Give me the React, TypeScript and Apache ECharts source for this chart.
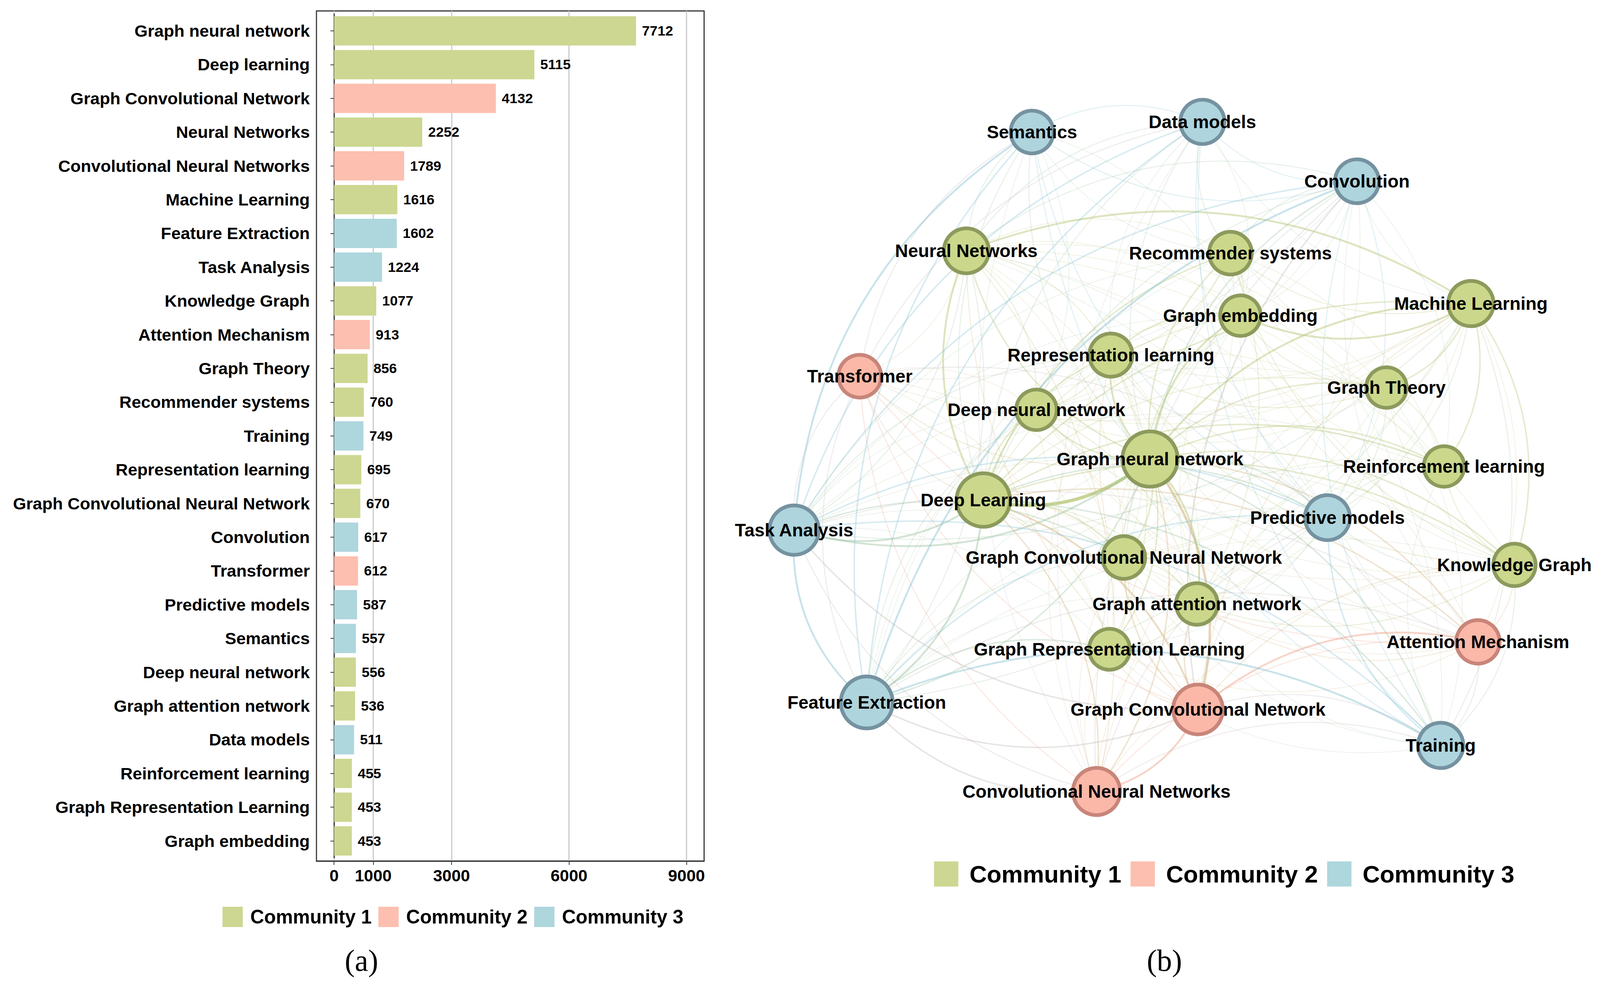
import React, { useEffect, useRef } from "react";
import * as echarts from "echarts";

// ---------- data ----------
const categories = [
  "Graph neural network", "Deep learning", "Graph Convolutional Network", "Neural Networks",
  "Convolutional Neural Networks", "Machine Learning", "Feature Extraction", "Task Analysis",
  "Knowledge Graph", "Attention Mechanism", "Graph Theory", "Recommender systems", "Training",
  "Representation learning", "Graph Convolutional Neural Network", "Convolution", "Transformer",
  "Predictive models", "Semantics", "Deep neural network", "Graph attention network", "Data models",
  "Reinforcement learning", "Graph Representation Learning", "Graph embedding",
];
const frequencies = [7712, 5115, 4132, 2252, 1789, 1616, 1602, 1224, 1077, 913, 856, 760, 749, 695, 670, 617, 612, 587, 557, 556, 536, 511, 455, 453, 453];
const communities = [1, 1, 2, 1, 2, 1, 3, 3, 1, 2, 1, 1, 3, 1, 1, 3, 2, 3, 3, 1, 1, 3, 1, 1, 1];
const communityNames = ["Community 1", "Community 2", "Community 3"];
const xTicks = [0, 1000, 3000, 6000, 9000];

// network (same node order as categories); positions in reference pixels
const networkLabels = categories.map((c) => (c === "Deep learning" ? "Deep Learning" : c));
const nodeX = [3118, 2666, 3248, 2620, 2973, 3988, 2350, 2153, 4106, 4007, 3759, 3336, 3906, 3012, 3047, 3679, 2331, 3599, 2798, 2810, 3245, 3260, 3915, 3008, 3363];
const nodeY = [1175, 1280, 1816, 642, 2026, 777, 1798, 1357, 1446, 1643, 992, 648, 1908, 909, 1427, 464, 963, 1325, 338, 1049, 1546, 312, 1194, 1662, 808];
const nodeSize = [150, 145, 135, 122, 128, 123, 141, 134, 115, 118, 110, 116, 123, 117, 116, 119, 116, 122, 116, 110, 113, 120, 110, 111, 110];
// [source, target, weight]
const edges: [number, number, number][] = [
  [0, 1, 6], [0, 2, 4], [0, 3, 2], [0, 4, 2], [0, 5, 3], [0, 6, 2], [0, 7, 3], [0, 8, 2], [0, 9, 2], [0, 10, 2], [0, 11, 2], [0, 12, 2],
  [0, 13, 3], [0, 14, 2], [0, 15, 2], [0, 16, 1], [0, 17, 2], [0, 18, 1], [0, 19, 2], [0, 20, 3], [0, 21, 1], [0, 22, 2], [0, 23, 2], [0, 24, 3],
  [1, 2, 3], [1, 3, 3], [1, 4, 2], [1, 5, 2], [1, 6, 3], [1, 7, 3], [1, 8, 2], [1, 9, 2], [1, 10, 1], [1, 11, 2], [1, 12, 2], [1, 13, 2],
  [1, 14, 2], [1, 15, 1], [1, 16, 1], [1, 17, 2], [1, 18, 1], [1, 19, 2], [1, 20, 1], [1, 21, 1], [1, 22, 2], [1, 23, 1], [1, 24, 1],
  [2, 4, 3], [2, 6, 2], [2, 7, 2], [2, 9, 3], [2, 12, 1], [2, 14, 2], [2, 15, 2], [2, 16, 1], [2, 17, 1], [2, 20, 2], [2, 23, 1], [2, 3, 1],
  [2, 5, 1], [2, 8, 1], [2, 13, 1],
  [3, 5, 3], [3, 6, 1], [3, 7, 1], [3, 4, 1], [3, 15, 1], [3, 18, 1], [3, 19, 1], [3, 21, 1], [3, 13, 1],
  [4, 6, 2], [4, 7, 1], [4, 12, 1], [4, 9, 1], [4, 15, 1], [4, 16, 1], [4, 17, 1],
  [5, 10, 2], [5, 22, 2], [5, 8, 2], [5, 24, 3], [5, 11, 1], [5, 12, 1], [5, 17, 1], [5, 6, 1], [5, 7, 1],
  [6, 7, 3], [6, 12, 3], [6, 15, 3], [6, 18, 2], [6, 21, 2], [6, 17, 2], [6, 16, 1], [6, 9, 1], [6, 23, 2], [6, 14, 1], [6, 19, 1],
  [7, 18, 3], [7, 21, 2], [7, 17, 2], [7, 15, 2], [7, 12, 2], [7, 16, 1], [7, 9, 1], [7, 14, 2], [7, 13, 1],
  [8, 9, 1], [8, 13, 1], [8, 11, 1], [8, 22, 1], [8, 12, 1], [8, 20, 1], [8, 17, 1],
  [9, 16, 1], [9, 17, 1], [9, 12, 1], [9, 20, 1],
  [10, 22, 1], [10, 24, 1], [10, 13, 1], [10, 17, 1],
  [11, 24, 1], [11, 13, 1], [11, 21, 1], [11, 15, 1], [11, 20, 1],
  [12, 17, 2], [12, 15, 1], [12, 21, 1], [12, 18, 1],
  [13, 24, 2], [13, 19, 1], [13, 23, 1],
  [14, 20, 1], [14, 23, 1], [14, 15, 1],
  [15, 21, 1], [15, 18, 1], [15, 17, 1],
  [16, 18, 1], [16, 21, 1], [16, 17, 1],
  [17, 21, 1], [17, 18, 1], [17, 22, 1],
  [18, 21, 1], [19, 20, 1], [20, 23, 1],
  // faint co-occurrences
  [3, 8, 0.5], [3, 9, 0.5], [3, 10, 0.5], [3, 11, 0.5], [3, 12, 0.5], [3, 14, 0.5], [3, 16, 0.5], [3, 17, 0.5], [3, 20, 0.5], [3, 22, 0.5], [3, 24, 0.5],
  [4, 5, 0.5], [4, 8, 0.5], [4, 13, 0.5], [4, 14, 0.5], [4, 18, 0.5], [4, 20, 0.5], [4, 21, 0.5], [4, 23, 0.5],
  [5, 9, 0.5], [5, 13, 0.5], [5, 14, 0.5], [5, 15, 0.5], [5, 16, 0.5], [5, 19, 0.5], [5, 20, 0.5], [5, 21, 0.5],
  [6, 8, 0.5], [6, 10, 0.5], [6, 11, 0.5], [6, 13, 0.5], [6, 20, 0.5], [6, 22, 0.5],
  [7, 8, 0.5], [7, 10, 0.5], [7, 11, 0.5], [7, 19, 0.5], [7, 20, 0.5], [7, 22, 0.5], [7, 23, 0.5], [7, 24, 0.5],
  [8, 10, 0.5], [8, 14, 0.5], [8, 16, 0.5], [8, 19, 0.5], [8, 24, 0.5],
  [9, 13, 0.5], [9, 14, 0.5], [9, 15, 0.5], [9, 19, 0.5], [9, 23, 0.5],
  [10, 11, 0.5], [10, 12, 0.5], [10, 14, 0.5], [10, 19, 0.5], [10, 20, 0.5],
  [11, 12, 0.5], [11, 14, 0.5], [11, 18, 0.5], [11, 19, 0.5], [11, 22, 0.5],
  [12, 14, 0.5], [12, 20, 0.5], [12, 22, 0.5], [12, 23, 0.5],
  [13, 14, 0.5], [13, 20, 0.5], [13, 21, 0.5], [13, 22, 0.5],
  [14, 17, 0.5], [14, 19, 0.5], [14, 22, 0.5], [14, 24, 0.5],
  [15, 16, 0.5], [15, 19, 0.5], [15, 20, 0.5], [15, 22, 0.5], [15, 24, 0.5],
  [16, 19, 0.5], [16, 20, 0.5], [16, 23, 0.5],
  [17, 19, 0.5], [17, 20, 0.5], [17, 23, 0.5], [17, 24, 0.5],
  [18, 19, 0.5], [18, 24, 0.5], [19, 23, 0.5], [19, 24, 0.5], [20, 22, 0.5], [20, 24, 0.5], [21, 24, 0.5], [22, 24, 0.5], [23, 24, 0.5],
];

// ---------- styles ----------
const SANS = 'Arial, "Liberation Sans", sans-serif';
const SERIF = '"Times New Roman", "Liberation Serif", serif';
const barColors = ["#cdd791", "#fdbfaf", "#aed6dd"];
const nodeFill = ["#cbd78b", "#fbb8a8", "#aed4dd"];
const nodeBorder = ["#8c9a5c", "#c8857a", "#7592a0"];
const edgeBase = ["#b3c470", "#f0a088", "#88c2d3"];
const REF_W = 4338;
const REF_H = 2529;

function hexToRgb(h: string) {
  const v = parseInt(h.slice(1), 16);
  return [(v >> 16) & 255, (v >> 8) & 255, v & 255];
}
function mixColor(a: string, b: string) {
  const A = hexToRgb(a), B = hexToRgb(b);
  const c = A.map((x, i) => Math.round((x + B[i]) / 2));
  return `rgb(${c[0]},${c[1]},${c[2]})`;
}

export default function App() {
  const ref = useRef<HTMLDivElement>(null);
  useEffect(() => {
    if (!ref.current) return;
    const chart = echarts.init(ref.current, undefined, { renderer: "svg" });
    const W = chart.getWidth();
    const H = chart.getHeight();
    const sx = W / REF_W;
    const sy = H / REF_H;
    const f = Math.min(sx, sy);
    const X = (v: number) => v * sx;
    const Y = (v: number) => v * sy;

    const barSeries = communityNames.map((name, ci) => ({
      type: "bar",
      name,
      xAxisIndex: 1,
      yAxisIndex: 1,
      barWidth: Y(75),
      barGap: "-100%",
      itemStyle: { color: barColors[ci] },
      label: {
        show: true,
        position: "right",
        distance: X(16),
        fontSize: 38 * f,
        fontWeight: "bold",
        color: "#000",
        fontFamily: SANS,
      },
      data: frequencies.map((v, i) => (communities[i] === ci + 1 ? v : "-")),
    }));

    const px = nodeX.map(X);
    const py = nodeY.map(Y);
    const graphSeries = {
      type: "graph",
      layout: "none",
      left: Math.min(...px),
      top: Math.min(...py),
      width: Math.max(...px) - Math.min(...px),
      height: Math.max(...py) - Math.min(...py),
      roam: false,
      silent: true,
      emphasis: { disabled: true },
      categories: communityNames.map((n, i) => ({
        name: n,
        itemStyle: { color: nodeFill[i], borderColor: nodeBorder[i], borderWidth: 10 * f },
      })),
      data: networkLabels.map((n, i) => ({
        name: n,
        x: px[i],
        y: py[i],
        symbolSize: nodeSize[i] * f,
        category: communities[i] - 1,
      })),
      links: edges.map(([s, t, w]) => ({
        source: s,
        target: t,
        lineStyle: {
          color: mixColor(edgeBase[communities[s] - 1], edgeBase[communities[t] - 1]),
          width: (1.5 + 1.2 * w) * f,
          opacity: Math.min(0.8, 0.15 + 0.1 * w),
          curveness: 0.25,
        },
      })),
      label: {
        show: true,
        position: "inside",
        fontSize: 49 * f,
        fontWeight: "bold",
        color: "#000",
        fontFamily: SANS,
      },
      lineStyle: { curveness: 0.25 },
    };

    chart.setOption({
      animation: false,
      backgroundColor: "#fff",
      grid: [
        { left: X(858), top: Y(28), width: X(1051), height: Y(2176), show: true, borderColor: "#333", borderWidth: 3 * f, backgroundColor: "transparent" },
        { left: X(858), top: Y(35.8), width: X(1051), height: Y(2160) },
      ],
      xAxis: [
        {
          type: "value",
          gridIndex: 0,
          min: -450,
          max: 9450,
          axisLine: { show: true, onZero: false, lineStyle: { color: "#333", width: 3 * f } },
          axisTick: { show: true, customValues: xTicks, length: Y(10), lineStyle: { color: "#333", width: 2 * f } },
          axisLabel: {
            customValues: xTicks,
            formatter: (v: number) => String(v),
            fontSize: 45 * f,
            fontWeight: "bold",
            color: "#000",
            margin: Y(16),
            fontFamily: SANS,
          },
          splitLine: { show: true, lineStyle: { color: "#c8c8c8", width: 3 * f } },
        },
        { type: "value", gridIndex: 1, min: -450, max: 9450, show: false },
      ],
      yAxis: [
        { type: "value", gridIndex: 0, show: false, splitLine: { show: false } },
        {
          type: "category",
          gridIndex: 1,
          inverse: true,
          data: categories,
          axisLine: { show: true, lineStyle: { color: "#333", width: 3 * f } },
          axisTick: { show: true, alignWithLabel: true, length: X(10), lineStyle: { color: "#333", width: 2 * f } },
          axisLabel: { fontSize: 46 * f, fontWeight: "bold", color: "#000", margin: X(18), fontFamily: SANS },
          splitLine: { show: false },
        },
      ],
      legend: [
        {
          data: communityNames.map((n, i) => ({ name: n, itemStyle: { color: barColors[i] } })),
          left: X(598),
          top: Y(2316),
          orient: "horizontal",
          icon: "rect",
          itemWidth: 55 * f,
          itemHeight: 55 * f,
          itemGap: X(18),
          selectedMode: false,
          textStyle: { fontSize: 52 * f, fontWeight: "bold", color: "#000", fontFamily: SANS, padding: [0, 0, 0, X(15)] },
        },
        {
          data: communityNames.map((n, i) => ({ name: n, itemStyle: { color: barColors[i] } })),
          left: X(2527),
          top: Y(2200),
          orient: "horizontal",
          icon: "rect",
          itemWidth: 66 * f,
          itemHeight: 68 * f,
          itemGap: X(25),
          selectedMode: false,
          textStyle: { fontSize: 65 * f, fontWeight: "bold", color: "#000", fontFamily: SANS, padding: [0, 0, 0, X(25)] },
        },
      ],
      graphic: [
        { type: "text", x: X(980), y: Y(2459), style: { text: "(a)", fontSize: 82 * f, fontFamily: SERIF, fill: "#000", align: "center", verticalAlign: "middle" } },
        { type: "text", x: X(3157), y: Y(2459), style: { text: "(b)", fontSize: 82 * f, fontFamily: SERIF, fill: "#000", align: "center", verticalAlign: "middle" } },
      ],
      series: [...barSeries, graphSeries],
    });
    return () => chart.dispose();
  }, []);
  return (
    <div
      ref={ref}
      style={{ position: "fixed", left: 0, top: 0, width: "100vw", height: "100vh", background: "#fff" }}
    />
  );
}
